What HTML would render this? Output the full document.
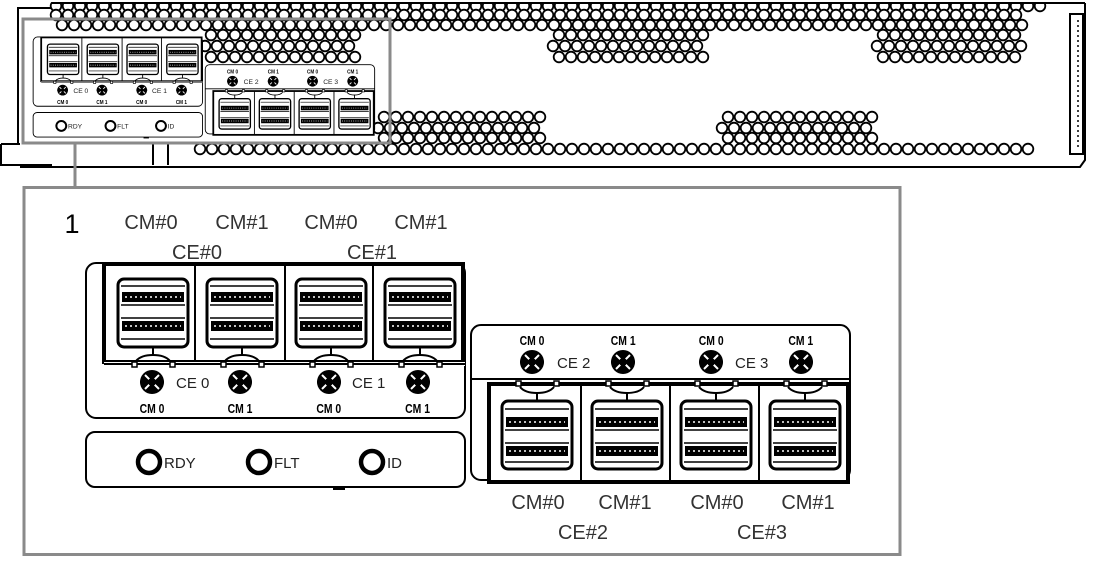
<!DOCTYPE html>
<html><head><meta charset="utf-8">
<style>
html,body{margin:0;padding:0;background:#fff;}
svg{display:block;}
.t{font-family:"Liberation Sans","Noto Sans CJK JP",sans-serif;}
</style></head>
<body>
<svg id="s" width="1096" height="566" viewBox="0 0 1096 566" xmlns="http://www.w3.org/2000/svg">
<defs>
  <g id="portbody">
    <rect x="12" y="14" width="70" height="68" rx="6" fill="#fff" stroke="#000" stroke-width="3"/>
    <line x1="15" y1="21" x2="79" y2="21" stroke="#000" stroke-width="1.5"/>
    <rect x="16" y="27" width="62" height="10" fill="#000"/>
    <line x1="19" y1="32" x2="75" y2="32" stroke="#fff" stroke-width="1.5" stroke-dasharray="2 3"/>
    <line x1="15" y1="40" x2="79" y2="40" stroke="#000" stroke-width="1.5"/>
    <line x1="15" y1="53" x2="79" y2="53" stroke="#000" stroke-width="1.5"/>
    <rect x="16" y="56" width="62" height="10" fill="#000"/>
    <line x1="19" y1="61" x2="75" y2="61" stroke="#fff" stroke-width="1.5" stroke-dasharray="2 3"/>
    <line x1="15" y1="74" x2="79" y2="74" stroke="#000" stroke-width="1.5"/>
  </g>
  <g id="portdown">
    <use href="#portbody"/>
    <line x1="47" y1="82" x2="47" y2="91" stroke="#000" stroke-width="2"/>
    <path d="M30 96 Q35 90 47 90 Q59 90 64 96" fill="none" stroke="#000" stroke-width="2"/>
    <rect x="26" y="97" width="5" height="5" fill="#fff" stroke="#000" stroke-width="1.5"/>
    <rect x="64" y="97" width="5" height="5" fill="#fff" stroke="#000" stroke-width="1.5"/>
  </g>
  <g id="fan">
    <circle r="12" fill="#000"/>
    <path d="M-7 -7 L7 7 M7 -7 L-7 7" stroke="#fff" stroke-width="2"/>
    <circle r="4" fill="#000"/>
    <line x1="-12" y1="0" x2="12" y2="0" stroke="#000" stroke-width="3"/>
  </g>
  <g id="detail">
    <rect x="86" y="263" width="379" height="155" rx="10" fill="#fff" stroke="#000" stroke-width="2"/>
    <rect x="104" y="264" width="359" height="98" fill="#fff" stroke="#000" stroke-width="4"/>
    <g stroke="#000" stroke-width="2">
      <line x1="195" y1="264" x2="195" y2="362"/><line x1="285" y1="264" x2="285" y2="362"/><line x1="373" y1="264" x2="373" y2="362"/>
    </g>
    <rect x="104" y="362" width="361" height="4" fill="#fff" stroke="none"/>
    <line x1="104" y1="364" x2="465" y2="364" stroke="#000" stroke-width="2"/>
    <use href="#portdown" x="106" y="265"/>
    <use href="#portdown" x="195" y="265"/>
    <use href="#portdown" x="284" y="265"/>
    <use href="#portdown" x="373" y="265"/>
    <use href="#fan" x="152" y="382"/><use href="#fan" x="240" y="382"/>
    <use href="#fan" x="329" y="382"/><use href="#fan" x="418" y="382"/>
    <g class="t" font-size="15" fill="#222">
      <text x="176" y="388">CE 0</text><text x="352" y="388">CE 1</text>
    </g>
    <g class="t" font-size="13" font-weight="bold" fill="#000" text-anchor="middle" transform="scale(0.8,1)">
      <text x="190" y="413">CM 0</text><text x="300" y="413">CM 1</text>
      <text x="411" y="413">CM 0</text><text x="522" y="413">CM 1</text>
    </g>
    <rect x="86" y="432" width="379" height="55" rx="9" fill="#fff" stroke="#000" stroke-width="2"/>
    <rect x="333" y="487" width="12" height="3" fill="#000"/>
    <g fill="none" stroke="#000" stroke-width="4.5">
      <circle cx="149" cy="462" r="11"/><circle cx="259" cy="462" r="11"/><circle cx="372" cy="462" r="11"/>
    </g>
    <g class="t" font-size="15" fill="#222">
      <text x="164" y="468">RDY</text><text x="274" y="468">FLT</text><text x="387" y="468">ID</text>
    </g>
    <rect x="471" y="325" width="379" height="155" rx="10" fill="#fff" stroke="#000" stroke-width="2"/>
    <line x1="471" y1="379" x2="850" y2="379" stroke="#000" stroke-width="2"/>
    <rect x="489" y="384" width="359" height="98" fill="#fff" stroke="#000" stroke-width="4"/>
    <g stroke="#000" stroke-width="2">
      <line x1="581" y1="384" x2="581" y2="482"/><line x1="670" y1="384" x2="670" y2="482"/><line x1="759" y1="384" x2="759" y2="482"/>
    </g>
    <g transform="translate(0,866) scale(1,-1)">
      <use href="#portdown" x="490" y="383"/>
      <use href="#portdown" x="580" y="383"/>
      <use href="#portdown" x="669" y="383"/>
      <use href="#portdown" x="758" y="383"/>
    </g>
    <use href="#fan" x="532" y="362"/><use href="#fan" x="623" y="362"/>
    <use href="#fan" x="711" y="362"/><use href="#fan" x="801" y="362"/>
    <g class="t" font-size="15" fill="#222">
      <text x="557" y="368">CE 2</text><text x="735" y="368">CE 3</text>
    </g>
    <g class="t" font-size="13" font-weight="bold" fill="#000" text-anchor="middle" transform="scale(0.8,1)">
      <text x="665" y="345">CM 0</text><text x="779" y="345">CM 1</text>
      <text x="889" y="345">CM 0</text><text x="1001" y="345">CM 1</text>
    </g>
  </g>
</defs>

<g fill="none" stroke="#000" stroke-width="2">
  <path d="M52 3 L1085 3"/>
  <path d="M52 3 L52 8 L18 8 L18 144"/>
  <path d="M1 144 L20 144"/>
  <path d="M1 144 L1 165 L52 165"/>
  <path d="M20 167 L175 167"/>
  <path d="M165 167 L1080 167 L1085 160 L1085 3"/>
  <line x1="153" y1="144" x2="153" y2="165"/>
  <line x1="168" y1="144" x2="168" y2="165"/>
  <rect x="1070" y="14" width="13" height="140"/>
  <line x1="1078" y1="20" x2="1078" y2="148" stroke-dasharray="2 3" stroke-width="1.5"/>
</g>
<g id="holes" fill="#fff" stroke="#000" stroke-width="1.8"></g>

<g transform="translate(-5.3,-80.6) scale(0.447)">
  <use href="#detail"/>
</g>

<rect x="23" y="19" width="367" height="124" fill="none" stroke="#8a8a8a" stroke-width="3"/>
<line x1="75" y1="143" x2="75" y2="187" stroke="#8a8a8a" stroke-width="3"/>
<rect x="24" y="187.5" width="876" height="367" fill="#fff" stroke="#8a8a8a" stroke-width="3"/>

<use href="#detail"/>

<g class="t" font-size="20" fill="#333" text-anchor="middle">
  <text x="72" y="233" font-size="27" fill="#000">1</text>
  <text x="151" y="229">CM#0</text><text x="242" y="229">CM#1</text>
  <text x="331" y="229">CM#0</text><text x="421" y="229">CM#1</text>
  <text x="197" y="259">CE#0</text><text x="372" y="259">CE#1</text>
  <text x="538" y="509">CM#0</text><text x="625" y="509">CM#1</text>
  <text x="717" y="509">CM#0</text><text x="808" y="509">CM#1</text>
  <text x="583" y="539">CE#2</text><text x="762" y="539">CE#3</text>
</g>

<script>
(function(){
  var g=document.getElementById('holes'),ns='http://www.w3.org/2000/svg';
  function row(y,x0,x1){for(var x=x0;x<=x1;x+=12){var c=document.createElementNS(ns,'circle');c.setAttribute('cx',x);c.setAttribute('cy',y);c.setAttribute('r',5.3);g.appendChild(c);}}
  row(6,56,1040);
  row(15,56,1020);
  row(25,62,1032);
  [[205,358],[553,707],[877,1023]].forEach(function(p){
    row(35,p[0]+6,p[1]);row(46,p[0],p[1]);row(57,p[0]+6,p[1]);
  });
  [[378,545],[722,873]].forEach(function(p){
    row(117,p[0]+6,p[1]);row(128,p[0],p[1]);row(138,p[0]+6,p[1]);
  });
  row(149,200,1033);
  var top=document.createElementNS(ns,'rect');top.setAttribute('x',40);top.setAttribute('y',-5);top.setAttribute('width',1060);top.setAttribute('height',7);top.setAttribute('fill','#fff');top.setAttribute('stroke','none');g.appendChild(top);
  var l=document.createElementNS(ns,'line');l.setAttribute('x1',52);l.setAttribute('y1',3);l.setAttribute('x2',1085);l.setAttribute('y2',3);l.setAttribute('stroke-width',2);g.appendChild(l);
})();
</script>
</svg>
</body></html>
